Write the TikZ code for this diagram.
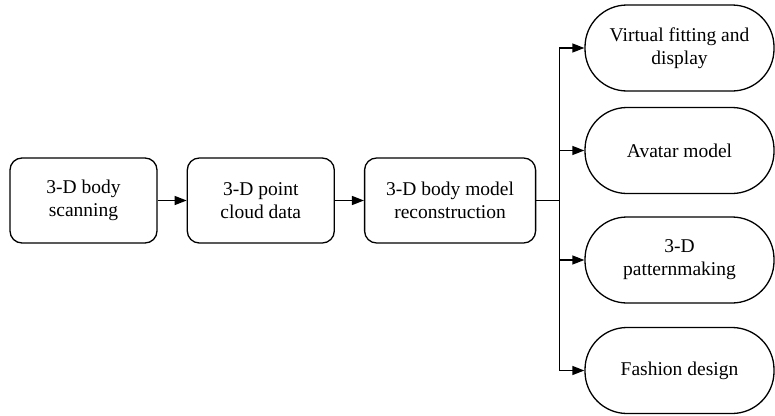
\documentclass[tikz,border=0pt]{standalone}
\usepackage{fontspec}
\newfontfamily\diagfont{Liberation Serif}
\usepackage{tikz}
\usetikzlibrary{arrows.meta,positioning}

\begin{document}
\begin{tikzpicture}[x=1pt, y=-1pt, font=\diagfont\fontsize{19.5}{23}\selectfont, line width=1.3pt, box/.style={draw, rounded corners=12pt, minimum width=147pt, minimum height=85pt, align=center}, pill/.style={draw, rounded corners=42pt, minimum width=189pt, minimum height=86pt, align=center}, arr/.style={-{Triangle[length=12pt, width=9pt]}}]
\useasboundingbox (0,0) rectangle (775,415);
\node[box] (scan) at (83.5,200.5) {3-D body\\scanning};
\node[box, right=29pt of scan] (cloud) {3-D point\\cloud data};
\node[box, minimum width=171pt, right=29pt of cloud] (recon) {3-D body model\\reconstruction};
\coordinate[right=23pt of recon] (fork);
\node[pill] (fit) at (679.5,48) {Virtual fitting and\\display};
\node[pill] (avatar) at (679.5,150.5) {Avatar model};
\node[pill] (pattern) at (679.5,260) {3-D\\patternmaking};
\node[pill] (fashion) at (679.5,370.5) {Fashion design};
\draw[arr] (scan) -- (cloud);
\draw[arr] (cloud) -- (recon);
\draw (recon) -- (fork);
\draw[arr] (fork) |- (fit);
\draw[arr] (fork) |- (avatar);
\draw[arr] (fork) |- (pattern);
\draw[arr] (fork) |- (fashion);
\end{tikzpicture}
\end{document}
